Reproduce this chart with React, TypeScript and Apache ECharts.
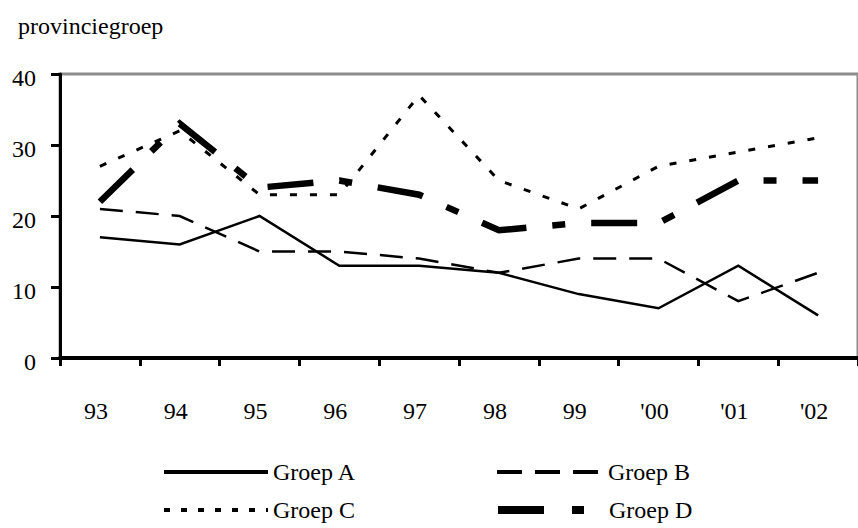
import React, { useEffect, useRef } from "react";
import * as echarts from "echarts";

// Jaren langs de horizontale as
const years = ["93", "94", "95", "96", "97", "98", "99", "'00", "'01", "'02"];

// Waarden per provinciegroep
const groepA = [17, 16, 20, 13, 13, 12, 9, 7, 13, 6];
const groepB = [21, 20, 15, 15, 14, 12, 14, 14, 8, 12];
const groepC = [27, 32, 23, 23, 37, 25, 21, 27, 29, 31];
const groepD = [22, 33, 24, 25, 23, 18, 19, 19, 25, 25];

const yTicks = [0, 10, 20, 30, 40];

const FONT = "Liberation Serif";

export default function App() {
  const ref = useRef<HTMLDivElement>(null);

  useEffect(() => {
    if (!ref.current) return;
    const chart = echarts.init(ref.current, null, { renderer: "svg" });

    const lineSeries = (name: string, data: number[], width: number, type: any) => ({
      name,
      type: "line",
      data,
      symbol: "none",
      showSymbol: false,
      smooth: false,
      lineStyle: { color: "#000", width, type, cap: "butt", join: "miter" },
      itemStyle: { color: "#000" },
      emphasis: { disabled: true },
    });

    // One legend per entry so that the four entries form a 2 x 2 block
    const legendEntry = (
      name: string,
      left: number,
      top: number,
      width: number,
      lineStyle: any
    ) => ({
      orient: "horizontal",
      left,
      top,
      itemWidth: width,
      itemHeight: 14,
      selectedMode: false,
      textStyle: { fontFamily: FONT, fontSize: 24, color: "#000" },
      itemStyle: { opacity: 0 },
      data: [{ name, lineStyle, itemStyle: { opacity: 0 } }],
    });

    chart.setOption({
      animation: false,
      backgroundColor: "#fff",
      textStyle: { fontFamily: FONT, color: "#000" },
      title: {
        text: "provinciegroep",
        left: 13,
        top: 9,
        textStyle: { fontFamily: FONT, fontSize: 24, fontWeight: "normal", color: "#000" },
      },
      grid: {
        left: 60,
        top: 74,
        width: 805,
        height: 284,
        show: true,
        borderColor: "#8c8c8c",
        borderWidth: 3,
        backgroundColor: "transparent",
      },
      xAxis: {
        type: "category",
        data: years,
        boundaryGap: true,
        axisLine: { show: true, lineStyle: { color: "#000", width: 4 } },
        axisTick: { show: true, length: 8, lineStyle: { color: "#000", width: 3 } },
        axisLabel: {
          fontFamily: FONT,
          fontSize: 24,
          color: "#000",
          margin: 41,
          padding: [0, 8, 0, 0],
        },
        splitLine: { show: false },
      },
      yAxis: {
        type: "value",
        min: yTicks[0],
        max: yTicks[yTicks.length - 1],
        interval: 10,
        axisLine: { show: true, lineStyle: { color: "#000", width: 3 } },
        axisTick: { show: true, length: 9, lineStyle: { color: "#000", width: 3 } },
        axisLabel: {
          fontFamily: FONT,
          fontSize: 24,
          color: "#000",
          margin: 24,
          verticalAlign: "top",
          lineHeight: 8,
        },
        splitLine: { show: false },
      },
      legend: [
        legendEntry("Groep A", 157, 455, 104, { width: 4 }),
        legendEntry("Groep C", 157, 493, 104, { width: 4, type: [6, 11] }),
        legendEntry("Groep B", 490, 455, 106, { width: 4, type: [25, 13] }),
        legendEntry("Groep D", 489, 493, 106, { width: 8, type: [46, 28, 12, 28] }),
      ],
      series: [
        lineSeries("Groep A", groepA, 2.5, "solid"),
        lineSeries("Groep B", groepB, 2.5, [23, 13]),
        lineSeries("Groep C", groepC, 3, [7, 13]),
        lineSeries("Groep D", groepD, 6.5, [46, 26, 13, 26]),
      ],
    });

    return () => chart.dispose();
  }, []);

  return (
    <div
      ref={ref}
      style={{
        position: "fixed",
        left: 0,
        top: 0,
        width: 858,
        height: 528,
        overflow: "hidden",
        background: "#fff",
      }}
    />
  );
}
